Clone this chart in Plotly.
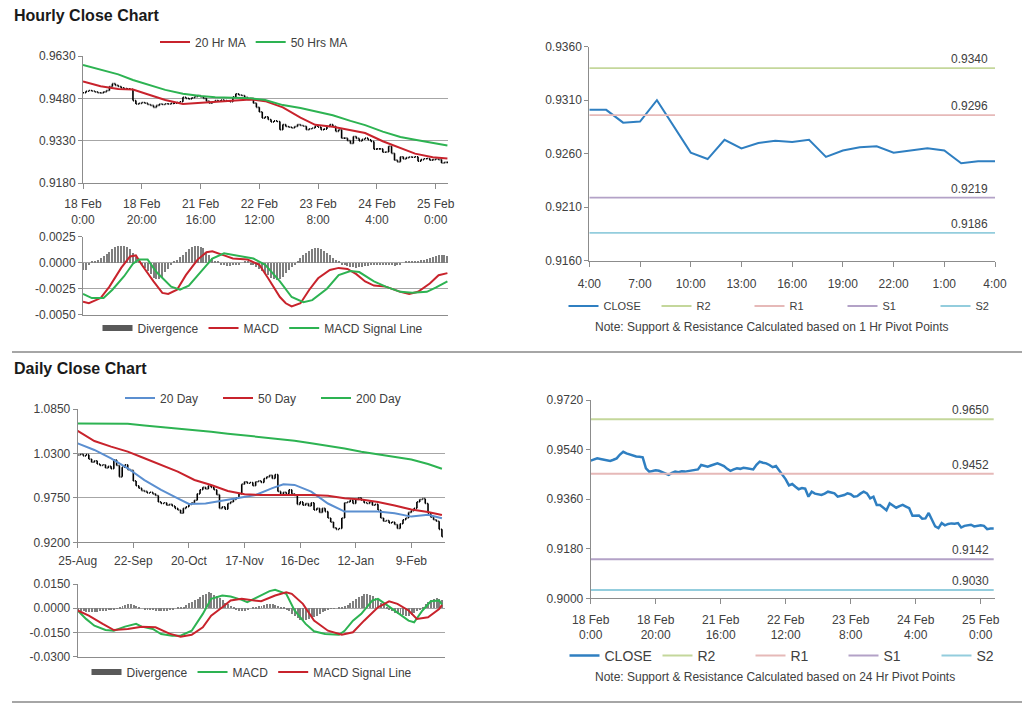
import plotly.graph_objects as go

W, H = 1024, 704
FONT = "Liberation Sans, Arial, sans-serif"
TXT = "#404040"
GRID = "#a6a6a6"
AXL = "#8c8c8c"

# ---------------- data ----------------
hour_tick_pos = [0, 20, 40, 60, 80, 100, 120]
hour_tick_labels = ["18 Feb<br>0:00", "18 Feb<br>20:00", "21 Feb<br>16:00", "22 Feb<br>12:00",
                    "23 Feb<br>8:00", "24 Feb<br>4:00", "25 Feb<br>0:00"]

hourly_close = [
    0.9500, 0.9505, 0.9508, 0.9506, 0.9503, 0.9500, 0.9499, 0.9503, 0.9508, 0.9522,
    0.9532, 0.9526, 0.9522, 0.9517, 0.9515, 0.9514, 0.9512, 0.9472, 0.9460, 0.9462,
    0.9465, 0.9463, 0.9458, 0.9455, 0.9448, 0.9455, 0.9460, 0.9458, 0.9461, 0.9460,
    0.9462, 0.9463, 0.9465, 0.9468, 0.9484, 0.9480, 0.9478, 0.9482, 0.9486, 0.9490,
    0.9485, 0.9480, 0.9470, 0.9463, 0.9468, 0.9472, 0.9470, 0.9474, 0.9472, 0.9470,
    0.9468, 0.9485, 0.9496, 0.9492, 0.9490, 0.9484, 0.9476, 0.9480, 0.9463, 0.9448,
    0.9432, 0.9410, 0.9415, 0.9405, 0.9396, 0.9400, 0.9398, 0.9369, 0.9387, 0.9380,
    0.9378, 0.9375, 0.9380, 0.9387, 0.9384, 0.9381, 0.9369, 0.9372, 0.9375, 0.9381,
    0.9378, 0.9369, 0.9371, 0.9380, 0.9387, 0.9381, 0.9363, 0.9369, 0.9339, 0.9339,
    0.9330, 0.9320, 0.9345, 0.9338, 0.9329, 0.9335, 0.9339, 0.9333, 0.9327, 0.9300,
    0.9301, 0.9301, 0.9289, 0.9290, 0.9310, 0.9285, 0.9261, 0.9255, 0.9273, 0.9265,
    0.9270, 0.9272, 0.9271, 0.9273, 0.9257, 0.9263, 0.9266, 0.9267, 0.9261, 0.9263,
    0.9265, 0.9263, 0.9251, 0.9253, 0.9253]

ma_h_x = [0, 6, 12, 17, 23, 28, 34, 40, 45, 51, 57, 62, 68, 74, 79, 85, 91, 96, 102, 108, 113, 119, 124]
ma20_h = [0.9540, 0.9523, 0.9513, 0.9511, 0.9491, 0.9474, 0.9460, 0.9464, 0.9470, 0.9474, 0.9476,
          0.9470, 0.9448, 0.9412, 0.9386, 0.9379, 0.9368, 0.9357, 0.9328, 0.9303, 0.9284, 0.9271, 0.9267]
ma50_h = [0.9598, 0.9582, 0.9565, 0.9545, 0.9527, 0.9510, 0.9496, 0.9488, 0.9484, 0.9482, 0.9480,
          0.9474, 0.9456, 0.9446, 0.9434, 0.9420, 0.9400, 0.9385, 0.9362, 0.9343, 0.9333, 0.9323, 0.9313]

macd_h_x = [0, 2, 6, 9, 13, 16, 18, 20, 24, 27, 29, 32, 35, 39, 42, 44, 48, 51, 56, 60,
            63, 67, 69, 71, 74, 77, 80, 84, 87, 90, 93, 96, 99, 103, 108, 111, 114, 118, 121, 124]
macd_h = [-0.00375, -0.0039, -0.0034, -0.0023, -0.0005, 0.0006, 0.0007, -0.0002, -0.0018, -0.0029,
          -0.0030, -0.0026, -0.0012, 0.0003, 0.0010, 0.0011, 0.0007, 0.0004, 0.0003, -0.0002,
          -0.0015, -0.0033, -0.0039, -0.0042, -0.0039, -0.0026, -0.0015, -0.0007, -0.0005, -0.0006,
          -0.0011, -0.0018, -0.0022, -0.0023, -0.0028, -0.0030, -0.0028, -0.0020, -0.0012, -0.0010]
sig_h_x = [0, 3, 7, 10, 14, 17, 19, 22, 25, 30, 33, 36, 40, 44, 48, 52, 58, 62, 67, 71,
           75, 78, 83, 87, 91, 94, 99, 103, 108, 112, 117, 120, 124]
sig_h = [-0.0030, -0.0034, -0.0034, -0.0026, -0.0013, -0.0001, 0.0003, 0.0003, -0.0009, -0.0023,
         -0.0026, -0.0022, -0.0009, 0.0004, 0.0009, 0.0007, 0.0004, -0.0002, -0.0018, -0.0033,
         -0.0038, -0.0036, -0.0025, -0.0012, -0.0008, -0.0009, -0.0018, -0.0023, -0.0028, -0.0029,
         -0.0028, -0.0024, -0.0018]
div_h = [
    -0.0007, -0.0007, -0.0002, 0.0001, 0.0002, 0.0003, 0.0005, 0.0007, 0.0009, 0.0011,
    0.0013, 0.0015, 0.0016, 0.0016, 0.0016, 0.0015, 0.0013, 0.0010, 0.0006, 0.0002,
    -0.0002, -0.0005, -0.0008, -0.0011, -0.0014, -0.0015, -0.0015, -0.0013, -0.0009, -0.0006,
    -0.0002, 0.0001, 0.0003, 0.0006, 0.0008, 0.0011, 0.0013, 0.0015, 0.0016, 0.0016,
    0.0015, 0.0014, 0.0011, 0.0008, 0.0005, 0.0002, 0.0001, -0.0001, -0.0002, -0.0003,
    -0.0003, -0.0002, -0.0001, -0.0001, 0.0000, 0.0001, 0.0001, -0.0001, -0.0002, -0.0004,
    -0.0006, -0.0008, -0.0010, -0.0012, -0.0014, -0.0015, -0.0016, -0.0015, -0.0013, -0.0010,
    -0.0007, -0.0004, -0.0001, 0.0002, 0.0005, 0.0008, 0.0010, 0.0012, 0.0013, 0.0014,
    0.0014, 0.0013, 0.0012, 0.0010, 0.0008, 0.0005, 0.0003, 0.0001, -0.0001, -0.0002,
    -0.0003, -0.0004, -0.0004, -0.0005, -0.0004, -0.0004, -0.0003, -0.0003, -0.0002, -0.0002,
    -0.0001, -0.0002, -0.0002, -0.0001, -0.0001, -0.0002, -0.0003, -0.0002, -0.0001, 0.0000,
    0.0001, 0.0001, 0.0002, 0.0002, 0.0002, 0.0003, 0.0003, 0.0004, 0.0005, 0.0006,
    0.0007, 0.0008, 0.0008, 0.0008, 0.0007]

pivot_hour_labels = ["4:00", "7:00", "10:00", "13:00", "16:00", "19:00", "22:00", "1:00", "4:00"]
pivot_names = ["R2", "R1", "S1", "S2"]
pivot_colors = ["#c4d79b", "#e6b9b8", "#b3a2c7", "#93cddd"]
pivot_1h = [0.9340, 0.9296, 0.9219, 0.9186]
pivot_24h = [0.9650, 0.9452, 0.9142, 0.9030]

day_tick_pos = [0, 20, 40, 60, 80, 100, 120]
day_tick_labels = ["25-Aug", "22-Sep", "20-Oct", "17-Nov", "16-Dec", "12-Jan", "9-Feb"]

daily_close = [
    1.0280, 1.0290, 1.0270, 1.0285, 1.0230, 1.0190, 1.0210, 1.0170, 1.0150, 1.0160,
    1.0120, 1.0140, 1.0110, 1.0220, 1.0150, 1.0010, 1.0130, 1.0160, 1.0100, 1.0090,
    0.9960, 0.9900, 0.9870, 0.9840, 0.9830, 0.9810, 0.9820, 0.9800, 0.9780, 0.9700,
    0.9680, 0.9690, 0.9660, 0.9670, 0.9650, 0.9620, 0.9600, 0.9560, 0.9620, 0.9640,
    0.9670, 0.9690, 0.9720, 0.9800, 0.9850, 0.9880, 0.9860, 0.9900, 0.9880, 0.9850,
    0.9790, 0.9620, 0.9640, 0.9610, 0.9680, 0.9700, 0.9730, 0.9750, 0.9800, 0.9920,
    0.9950, 0.9930, 0.9940, 0.9900, 0.9950, 0.9960, 0.9940, 0.9990, 1.0010, 1.0030,
    0.9990, 1.0040, 0.9830, 0.9790, 0.9820, 0.9800, 0.9850, 0.9800, 0.9780, 0.9670,
    0.9700, 0.9660, 0.9680, 0.9650, 0.9690, 0.9600, 0.9620, 0.9570, 0.9620, 0.9580,
    0.9500, 0.9450, 0.9380, 0.9360, 0.9370, 0.9500, 0.9690, 0.9700, 0.9720, 0.9680,
    0.9730, 0.9750, 0.9720, 0.9690, 0.9680, 0.9700, 0.9660, 0.9670, 0.9600, 0.9500,
    0.9460, 0.9470, 0.9440, 0.9450, 0.9420, 0.9370, 0.9430, 0.9480, 0.9500, 0.9570,
    0.9590, 0.9620, 0.9700, 0.9730, 0.9740, 0.9680, 0.9560, 0.9510, 0.9480, 0.9460,
    0.9360, 0.9270]

ma20_d_x = [0, 6, 12, 18, 24, 30, 36, 40, 46, 52, 58, 64, 70, 74, 78, 84, 90, 96, 102, 108, 114, 120, 126, 131]
ma20_d = [1.0425, 1.0343, 1.0240, 1.0116, 0.9970, 0.9850, 0.9744, 0.9674, 0.9680, 0.9716, 0.9753, 0.9786,
          0.9870, 0.9918, 0.9910, 0.9827, 0.9680, 0.9580, 0.9580, 0.9580, 0.9560, 0.9518, 0.9540, 0.9497]
ma_d_x = [0, 6, 12, 18, 24, 30, 36, 42, 48, 54, 60, 66, 72, 78, 84, 90, 96, 102, 108, 114, 120, 126, 131]
ma50_d = [1.0578, 1.0454, 1.0384, 1.0322, 1.0240, 1.0157, 1.0074, 0.9971, 0.9909, 0.9835, 0.9794, 0.9786,
          0.9786, 0.9794, 0.9786, 0.9777, 0.9744, 0.9730, 0.9700, 0.9655, 0.9605, 0.9575, 0.9538]
ma200_d = [1.0672, 1.0672, 1.0672, 1.0668, 1.0645, 1.0628, 1.0608, 1.0588, 1.0568, 1.0545, 1.0524, 1.0503,
           1.0482, 1.0458, 1.0425, 1.0395, 1.0360, 1.0321, 1.0290, 1.0255, 1.0225, 1.0170, 1.0110]

macd_d_x = [0, 3, 6, 10, 13, 17, 21, 23, 27, 30, 34, 37, 41, 45, 48, 52, 55, 59, 61, 65,
            69, 71, 75, 78, 82, 85, 89, 94, 96, 99, 102, 106, 108, 112, 115, 119, 121, 124, 127, 130, 131]
macd_d = [-0.0014, -0.0066, -0.0108, -0.0135, -0.0139, -0.0114, -0.0097, -0.0114, -0.0128, -0.0160,
          -0.0170, -0.0170, -0.0139, -0.0035, 0.0058, 0.0079, 0.0072, 0.0052, 0.0037, 0.0072,
          0.0106, 0.0114, 0.0089, -0.0014, -0.0097, -0.0143, -0.0160, -0.0164, -0.0140, -0.0077,
          -0.0035, 0.0048, 0.0058, 0.0010, -0.0025, -0.0077, -0.0087, -0.0014, 0.0043, 0.0048, 0.0023]
sig_d_x = [0, 4, 9, 13, 18, 23, 28, 33, 37, 41, 45, 48, 52, 55, 59, 63, 66, 71, 75, 77,
           81, 85, 90, 95, 99, 103, 108, 112, 115, 119, 122, 126, 130, 131]
sig_d = [-0.0014, -0.0046, -0.0097, -0.0135, -0.0129, -0.0114, -0.0118, -0.0157, -0.0176, -0.0164,
         -0.0118, -0.0046, 0.0006, 0.0048, 0.0058, 0.0048, 0.0043, 0.0079, 0.0099, 0.0089,
         0.0027, -0.0077, -0.0139, -0.0164, -0.0149, -0.0077, 0.0006, 0.0043, 0.0027, -0.0014,
         -0.0066, -0.0056, -0.0005, 0.0020]
div_d = [
    -0.0010, -0.0015, -0.0020, -0.0022, -0.0025, -0.0025, -0.0025, -0.0022, -0.0020, -0.0018,
    -0.0015, -0.0012, -0.0008, -0.0005, -0.0002, 0.0005, 0.0012, 0.0020, 0.0027, 0.0027,
    0.0022, 0.0015, 0.0008, 0.0000, -0.0005, -0.0008, -0.0010, -0.0013, -0.0016, -0.0018,
    -0.0020, -0.0018, -0.0015, -0.0010, -0.0005, 0.0000, 0.0003, 0.0006, 0.0010, 0.0020,
    0.0030, 0.0040, 0.0050, 0.0060, 0.0070, 0.0080, 0.0090, 0.0098, 0.0095, 0.0085,
    0.0075, 0.0065, 0.0050, 0.0035, 0.0025, 0.0015, 0.0005, -0.0008, -0.0015, -0.0018,
    -0.0015, -0.0008, 0.0000, 0.0005, 0.0010, 0.0012, 0.0015, 0.0020, 0.0025, 0.0028,
    0.0026, 0.0022, 0.0015, 0.0008, 0.0002, -0.0008, -0.0020, -0.0035, -0.0050, -0.0062,
    -0.0072, -0.0077, -0.0075, -0.0068, -0.0060, -0.0052, -0.0045, -0.0035, -0.0025, -0.0015,
    -0.0008, -0.0004, -0.0002, 0.0000, 0.0002, 0.0005, 0.0012, 0.0020, 0.0030, 0.0042,
    0.0055, 0.0068, 0.0078, 0.0086, 0.0090, 0.0085, 0.0075, 0.0062, 0.0048, 0.0032,
    0.0018, 0.0005, -0.0010, -0.0020, -0.0030, -0.0036, -0.0040, -0.0043, -0.0045, -0.0045,
    -0.0040, -0.0032, -0.0020, -0.0008, 0.0010, 0.0025, 0.0040, 0.0052, 0.0060, 0.0062,
    0.0058, 0.0050]

# y tick values per panel
yt_a = [0.9180, 0.9330, 0.9480, 0.9630]
yt_b = [-0.0050, -0.0025, 0.0000, 0.0025]
yt_c = [0.9160, 0.9210, 0.9260, 0.9310, 0.9360]
yt_d = [0.9200, 0.9750, 1.0300, 1.0850]
yt_e = [-0.0300, -0.0150, 0.0000, 0.0150]
yt_f = [0.9000, 0.9180, 0.9360, 0.9540, 0.9720]

# colours
RED = "#c8232c"
GREEN = "#2db352"
BLUE_MA = "#5b8fd0"
CLOSE_BLUE = "#2f7fc1"
DIV_GRAY = "#7f7f7f"


def px_x(a, b):
    return [a / W, b / W]


def px_y(top, bottom):
    return [1 - bottom / H, 1 - top / H]


def ohlc_from_close(close):
    opens = [close[0]] + close[:-1]
    highs = [max(o, c) for o, c in zip(opens, close)]
    lows = [min(o, c) for o, c in zip(opens, close)]
    return opens, highs, lows


fig = go.Figure()

# ---------- Panel A: hourly price ----------
hx = list(range(len(hourly_close)))
o, h, l = ohlc_from_close(hourly_close)
fig.add_trace(go.Ohlc(x=hx, open=o, high=h, low=l, close=hourly_close, xaxis="x", yaxis="y",
                      increasing=dict(line=dict(color="black", width=1.6)),
                      decreasing=dict(line=dict(color="black", width=1.6)),
                      tickwidth=0.35, showlegend=False, hoverinfo="skip"))
fig.add_trace(go.Scatter(x=ma_h_x, y=ma20_h, mode="lines", name="20 Hr MA", line=dict(color=RED, width=2),
                         xaxis="x", yaxis="y", legend="legend"))
fig.add_trace(go.Scatter(x=ma_h_x, y=ma50_h, mode="lines", name="50 Hrs MA", line=dict(color=GREEN, width=2),
                         xaxis="x", yaxis="y", legend="legend"))

# ---------- Panel B: hourly MACD ----------
fig.add_trace(go.Bar(x=hx, y=div_h, marker=dict(color=DIV_GRAY, line=dict(width=0)), width=0.35,
                     xaxis="x2", yaxis="y2", showlegend=False, hoverinfo="skip"))
fig.add_trace(go.Scatter(x=[None], y=[None], mode="lines", name="Divergence", line=dict(color="#595959", width=6),
                         xaxis="x2", yaxis="y2", legend="legend2"))
fig.add_trace(go.Scatter(x=macd_h_x, y=macd_h, mode="lines", name="MACD", line=dict(color=RED, width=2),
                         xaxis="x2", yaxis="y2", legend="legend2"))
fig.add_trace(go.Scatter(x=sig_h_x, y=sig_h, mode="lines", name="MACD Signal Line", line=dict(color=GREEN, width=2),
                         xaxis="x2", yaxis="y2", legend="legend2"))

# ---------- Panel C: last 24 hours with 1 Hr pivots ----------
last_day = hourly_close[-25:]
cx = list(range(len(last_day)))
fig.add_trace(go.Scatter(x=cx, y=last_day, mode="lines", name="CLOSE", line=dict(color=CLOSE_BLUE, width=2),
                         xaxis="x3", yaxis="y3", legend="legend3"))
for nm, col, v in zip(pivot_names, pivot_colors, pivot_1h):
    fig.add_trace(go.Scatter(x=[cx[0], cx[-1]], y=[v, v], mode="lines", name=nm, line=dict(color=col, width=1.8),
                             xaxis="x3", yaxis="y3", legend="legend3"))

# ---------- Panel D: daily price ----------
dx = list(range(len(daily_close)))
o, h, l = ohlc_from_close(daily_close)
fig.add_trace(go.Ohlc(x=dx, open=o, high=h, low=l, close=daily_close, xaxis="x4", yaxis="y4",
                      increasing=dict(line=dict(color="black", width=1.6)),
                      decreasing=dict(line=dict(color="black", width=1.6)),
                      tickwidth=0.35, showlegend=False, hoverinfo="skip"))
fig.add_trace(go.Scatter(x=ma20_d_x, y=ma20_d, mode="lines", name="20 Day", line=dict(color=BLUE_MA, width=2),
                         xaxis="x4", yaxis="y4", legend="legend4"))
fig.add_trace(go.Scatter(x=ma_d_x, y=ma50_d, mode="lines", name="50 Day", line=dict(color=RED, width=2),
                         xaxis="x4", yaxis="y4", legend="legend4"))
fig.add_trace(go.Scatter(x=ma_d_x, y=ma200_d, mode="lines", name="200 Day", line=dict(color=GREEN, width=2),
                         xaxis="x4", yaxis="y4", legend="legend4"))

# ---------- Panel E: daily MACD ----------
fig.add_trace(go.Bar(x=dx, y=div_d, marker=dict(color=DIV_GRAY, line=dict(width=0)), width=0.35,
                     xaxis="x5", yaxis="y5", showlegend=False, hoverinfo="skip"))
fig.add_trace(go.Scatter(x=[None], y=[None], mode="lines", name="Divergence", line=dict(color="#595959", width=6),
                         xaxis="x5", yaxis="y5", legend="legend5"))
fig.add_trace(go.Scatter(x=macd_d_x, y=macd_d, mode="lines", name="MACD", line=dict(color=GREEN, width=2),
                         xaxis="x5", yaxis="y5", legend="legend5"))
fig.add_trace(go.Scatter(x=sig_d_x, y=sig_d, mode="lines", name="MACD Signal Line", line=dict(color=RED, width=2),
                         xaxis="x5", yaxis="y5", legend="legend5"))

# ---------- Panel F: hourly close with 24 Hr pivots ----------
fig.add_trace(go.Scatter(x=hx, y=hourly_close, mode="lines", name="CLOSE", line=dict(color=CLOSE_BLUE, width=2.5),
                         xaxis="x6", yaxis="y6", legend="legend6"))
for nm, col, v in zip(pivot_names, pivot_colors, pivot_24h):
    fig.add_trace(go.Scatter(x=[hx[0], hx[-1]], y=[v, v], mode="lines", name=nm, line=dict(color=col, width=2),
                             xaxis="x6", yaxis="y6", legend="legend6"))

# ---------- axes ----------
tickfont = dict(family=FONT, size=12, color=TXT)


def xax(domain, anchor, rng, tickvals=None, ticktext=None, standoff=4):
    d = dict(domain=domain, anchor=anchor, range=rng, showgrid=False, zeroline=False,
             showline=True, linecolor=AXL, linewidth=1, tickfont=tickfont, fixedrange=True,
             rangeslider=dict(visible=False))
    if tickvals is None:
        d.update(showticklabels=False, ticks="")
    else:
        d.update(tickmode="array", tickvals=tickvals, ticktext=ticktext, ticks="outside",
                 ticklen=5, tickcolor=AXL, ticklabelstandoff=standoff)
    return d


def yax(domain, anchor, vals, grid=True):
    return dict(domain=domain, anchor=anchor, range=[vals[0], vals[-1]], tickmode="array",
                tickvals=vals, ticktext=[f"{v:.4f}" for v in vals], showgrid=grid, gridcolor=GRID,
                gridwidth=1, zeroline=False, showline=True, linecolor=AXL, linewidth=1,
                ticks="outside", ticklen=4, tickcolor=AXL, tickfont=tickfont, fixedrange=True)


layout_axes = dict(
    xaxis=xax(px_x(83, 448), "y", [0, 124.2], hour_tick_pos, hour_tick_labels, 5),
    yaxis=yax(px_y(56, 183), "x", yt_a),
    xaxis2=xax(px_x(83, 448), "y2", [0, 124.2]),
    yaxis2=yax(px_y(236.7, 314.7), "x2", yt_b),
    xaxis3=xax(px_x(589.3, 995), "y3", [0, 24], list(range(0, 25, 3)), pivot_hour_labels, 7),
    yaxis3=yax(px_y(46.7, 260.7), "x3", yt_c, grid=False),
    xaxis4=xax(px_x(77.7, 444.7), "y4", [0, 132], day_tick_pos, day_tick_labels, 2),
    yaxis4=yax(px_y(409, 542.3), "x4", yt_d),
    xaxis5=xax(px_x(77.7, 444.7), "y5", [0, 132]),
    yaxis5=yax(px_y(584, 656.7), "x5", yt_e),
    xaxis6=xax(px_x(590.7, 995), "y6", [0, 124.4], hour_tick_pos, hour_tick_labels, 5),
    yaxis6=yax(px_y(400, 598.3), "x6", yt_f, grid=False),
)
fig.update_layout(**layout_axes)


def leg(xc, yc, size=12, entrywidth=None):
    d = dict(orientation="h", x=xc / W, y=1 - yc / H, xanchor="center", yanchor="middle",
             font=dict(family=FONT, size=size, color=TXT), bgcolor="rgba(0,0,0,0)",
             itemwidth=30, itemclick=False, itemdoubleclick=False, traceorder="normal")
    if entrywidth:
        d.update(entrywidth=entrywidth, entrywidthmode="pixels")
    return d


fig.update_layout(
    legend=leg(254, 42),
    legend2=leg(263, 328),
    legend3=leg(796, 306, size=11, entrywidth=48),
    legend4=leg(267, 398, entrywidth=53),
    legend5=leg(252, 672),
    legend6=leg(797, 656, size=14, entrywidth=48),
)

# ---------- annotations ----------
ann = [
    dict(text="<b>Hourly Close Chart</b>", x=12 / W, y=1 - 16 / H, xref="paper", yref="paper",
         xanchor="left", yanchor="middle", showarrow=False, font=dict(family=FONT, size=16, color="#1a1a1a")),
    dict(text="<b>Daily Close Chart</b>", x=12 / W, y=1 - 368 / H, xref="paper", yref="paper",
         xanchor="left", yanchor="middle", showarrow=False, font=dict(family=FONT, size=16, color="#1a1a1a")),
    dict(text="Note: Support & Resistance Calculated based on 1 Hr Pivot Points", x=772 / W, y=1 - 327 / H,
         xref="paper", yref="paper", xanchor="center", yanchor="middle", showarrow=False,
         font=dict(family=FONT, size=12, color=TXT)),
    dict(text="Note: Support & Resistance Calculated based on 24 Hr Pivot Points", x=775 / W, y=1 - 677 / H,
         xref="paper", yref="paper", xanchor="center", yanchor="middle", showarrow=False,
         font=dict(family=FONT, size=12, color=TXT)),
]
for v in pivot_1h:
    ann.append(dict(text=f"{v:.4f}", x=cx[-1], y=v, xref="x3", yref="y3", xanchor="right", yanchor="bottom",
                    xshift=-5, yshift=0, showarrow=False, font=dict(family=FONT, size=12, color=TXT)))
for v in pivot_24h:
    ann.append(dict(text=f"{v:.4f}", x=hx[-1], y=v, xref="x6", yref="y6", xanchor="right", yanchor="bottom",
                    xshift=-3, yshift=0, showarrow=False, font=dict(family=FONT, size=12, color=TXT)))

shapes = [
    dict(type="line", xref="paper", yref="paper", x0=12 / W, x1=1022 / W, y0=1 - 352 / H, y1=1 - 352 / H,
         line=dict(color="#a6a6a6", width=2)),
    dict(type="line", xref="paper", yref="paper", x0=12 / W, x1=1022 / W, y0=1 - 702 / H, y1=1 - 702 / H,
         line=dict(color="#a6a6a6", width=2)),
]

fig.update_layout(
    width=W, height=H, margin=dict(l=0, r=0, t=0, b=0, autoexpand=False),
    paper_bgcolor="white", plot_bgcolor="white", hovermode=False,
    annotations=ann, shapes=shapes, bargap=0,
    font=dict(family=FONT, size=12, color=TXT),
)

fig.write_html("out.html", config={"displayModeBar": False},
               post_script="document.body.style.margin='0';document.body.style.overflow='hidden';")
